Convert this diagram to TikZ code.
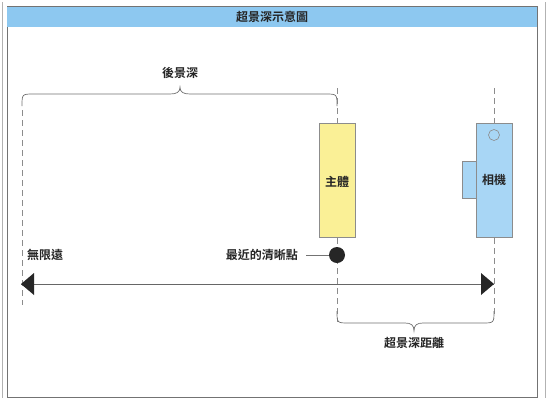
\documentclass[tikz,border=0pt]{standalone}
\usepackage{fontspec}
\newfontfamily\cjk{Noto Sans CJK TC Bold}
\begin{document}
\begin{tikzpicture}[x=1pt,y=-1pt,
  lbl/.style={font=\cjk\fontsize{12}{14}\selectfont, text=black!85, inner sep=1pt},
  guide/.style={draw=black!45, line width=0.6pt, dash pattern=on 6pt off 4pt},
  bracestyle/.style={draw=black!55, line width=0.7pt},
  boxstyle/.style={draw=black!45, line width=0.6pt},
  tri/.style={fill=black!85, draw=none}]
\useasboundingbox (0,0) rectangle (550,400);
\fill[white] (0,0) rectangle (550,400);
% scan edges
\draw[black!30, line width=0.5pt] (2,2) -- (2,398);
\draw[black!30, line width=0.5pt] (545,2) -- (545,398);
% frame
\draw[black!55, line width=0.8pt] (7,6) rectangle (537,397);
% title bar
\fill[fill={rgb,255:red,141;green,200;blue,240}] (7.4,7) rectangle (536.6,27);
\node[lbl] (title) at (272,17) {超景深示意圖};
% guides
\coordinate (gL1) at (22,110);
\coordinate (gL2) at (22,305);
\coordinate (gS1) at (337,88);
\coordinate (gS2) at (337,322);
\coordinate (gC1) at (494,88);
\coordinate (gC2) at (494,318);
\draw[guide] (gL1) -- (gL2);
\draw[guide] (gS1) -- (gS2);
\draw[guide] (gC1) -- (gC2);
% top brace
\draw[bracestyle] (22,106) .. controls (22,94) and (22,94) .. (34,94) -- (170,94)
  .. controls (177,94) and (180,92) .. (180,87)
  .. controls (180,92) and (183,94) .. (190,94) -- (325,94)
  .. controls (337,94) and (337,94) .. (337,106);
\node[lbl] (back) at (180,73) {後景深};
% subject
\node[boxstyle, fill={rgb,255:red,250;green,240;blue,150}, minimum width=36pt, minimum height=114pt, inner sep=0pt] (subject) at (337,180) {};
\node[lbl] (subjectlbl) at (337,182) {主體};
% camera
\node[boxstyle, fill={rgb,255:red,168;green,214;blue,245}, minimum width=14pt, minimum height=37pt, inner sep=0pt] (lens) at (469,180) {};
\node[boxstyle, fill={rgb,255:red,168;green,214;blue,245}, minimum width=36pt, minimum height=114pt, inner sep=0pt] (camera) at (494,180) {};
\node[boxstyle, circle, minimum size=11pt, inner sep=0pt] (viewfinder) at (494,135) {};
\node[lbl] (cameralbl) at (494,180) {相機};
% nearest sharp point
\node[circle, fill=black!85, minimum size=16pt, inner sep=0pt] (dot) at (337,255) {};
\node[lbl, anchor=east] (nearlbl) at (299,255) {最近的清晰點};
\draw[black!55, line width=0.7pt] (nearlbl.east) ++(7,0) coordinate (lnstart) -- (dot.west);
% infinity
\node[lbl, anchor=west] (inf) at (26,255) {無限遠};
% arrow
\coordinate (aL) at (21,284);
\coordinate (aR) at (494,284);
\draw[black!60, line width=0.7pt] (aL) -- (aR);
\fill[tri] (aL) -- ++(13,-11) -- ++(0,22) -- cycle;
\fill[tri] (aR) -- ++(-13,-11) -- ++(0,22) -- cycle;
% bottom brace
\draw[bracestyle] (337,311) .. controls (337,323) and (337,323) .. (349,323) -- (405,323)
  .. controls (411,323) and (414,325) .. (414,331)
  .. controls (414,325) and (417,323) .. (423,323) -- (482,323)
  .. controls (494,323) and (494,323) .. (494,311);
\node[lbl] (hyper) at (414,343) {超景深距離};
\end{tikzpicture}
\end{document}
